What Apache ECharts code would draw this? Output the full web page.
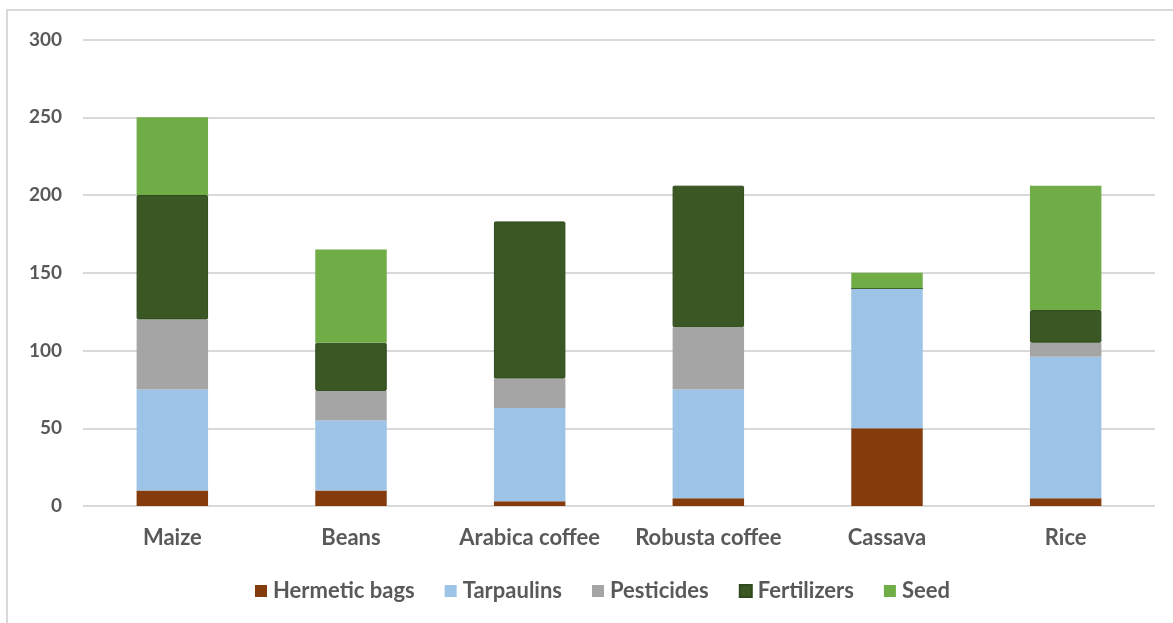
<!DOCTYPE html>
<html>
<head>
<meta charset="utf-8">
<script src="https://cdn.jsdelivr.net/npm/echarts@6/dist/echarts.min.js"></script>
<style>
  html, body { margin: 0; padding: 0; background: #fff; }
  #chart { width: 1173px; height: 623px; }
</style>
</head>
<body>
<div id="chart"></div>
<script>
// Crops and input types
const categories = ['Maize', 'Beans', 'Arabica coffee', 'Robusta coffee', 'Cassava', 'Rice'];
const hermeticBags = [10, 10, 3, 5, 50, 5];
const tarpaulins   = [65, 45, 60, 70, 90, 91];
const pesticides   = [45, 19, 19, 40, 0, 9];
const fertilizers  = [80, 31, 101, 91, 0, 21];
const seed         = [50, 60, 0, 0, 10, 80];
const yTicks = { min: 0, max: 300, interval: 50 };

const textColor = '#595959';
const fontFamily = 'Lato, "Open Sans", sans-serif';

function stackSeries(name, data, color, extra) {
  return Object.assign({
    name: name,
    type: 'bar',
    stack: 'total',
    data: data,
    barCategoryGap: '60%',
    itemStyle: { color: color },
    emphasis: { disabled: true }
  }, extra || {});
}

const chart = echarts.init(document.getElementById('chart'), null, { renderer: 'canvas' });
chart.setOption({
  animation: false,
  backgroundColor: '#ffffff',
  textStyle: { fontFamily: fontFamily },
  graphic: [{
    type: 'rect',
    silent: true,
    z: -10,
    shape: { x: 7, y: 10, width: 1220, height: 700 },
    style: { fill: 'none', stroke: '#d9d9d9', lineWidth: 2 }
  }],
  grid: { left: 83, right: 18, top: 39.5, bottom: 117, containLabel: false },
  legend: {
    bottom: 16,
    left: 250,
    itemWidth: 12,
    itemHeight: 12,
    itemGap: 30,
    icon: 'rect',
    textStyle: { color: textColor, fontSize: 22, fontWeight: 'bold', fontFamily: fontFamily, padding: [0, 0, 0, 1] },
    data: ['Hermetic bags', 'Tarpaulins', 'Pesticides', 'Fertilizers', 'Seed']
  },
  xAxis: {
    type: 'category',
    data: categories,
    axisLine: { show: false },
    axisTick: { show: false },
    axisLabel: { color: textColor, fontSize: 22, fontWeight: 'bold', margin: 21, interval: 0, fontFamily: fontFamily }
  },
  yAxis: {
    type: 'value',
    min: yTicks.min,
    max: yTicks.max,
    interval: yTicks.interval,
    axisLine: { show: false },
    axisTick: { show: false },
    axisLabel: { color: textColor, fontSize: 19, fontWeight: 'bold', margin: 21, fontFamily: fontFamily },
    splitLine: { lineStyle: { color: '#d9d9d9', width: 2 } }
  },
  series: [
    stackSeries('Hermetic bags', hermeticBags, '#843C0C'),
    stackSeries('Tarpaulins', tarpaulins, '#9DC3E6'),
    stackSeries('Pesticides', pesticides, '#A5A5A5'),
    stackSeries('Fertilizers', fertilizers, '#3A5724', {
      itemStyle: { color: '#3A5724', borderColor: '#2E4A1C', borderWidth: 1, borderRadius: 1 }
    }),
    stackSeries('Seed', seed, '#70AD47')
  ]
});
</script>
</body>
</html>
